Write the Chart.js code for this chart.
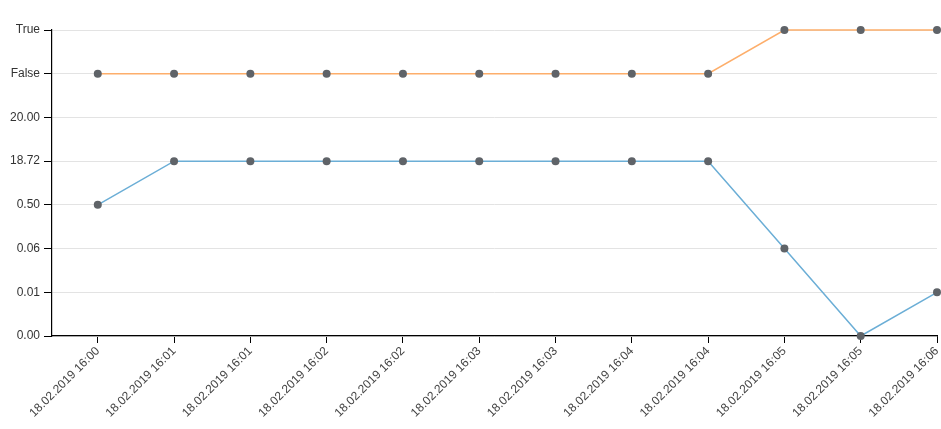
<!DOCTYPE html>
<html>
<head>
<meta charset="utf-8">
<script src="https://cdn.jsdelivr.net/npm/chart.js@4"></script>
<style>
html,body{margin:0;padding:0;background:#fff;}
#wrap{width:941px;height:429px;position:relative;}
</style>
</head>
<body>
<div id="wrap"><canvas id="c"></canvas></div>
<script>
// Tick labels on the value axis (bottom to top)
const yLabels = ["0.00", "0.01", "0.06", "0.50", "18.72", "20.00", "False", "True"];
// Time categories
const categories = [
  "18.02.2019 16:00", "18.02.2019 16:01", "18.02.2019 16:01", "18.02.2019 16:02",
  "18.02.2019 16:02", "18.02.2019 16:03", "18.02.2019 16:03", "18.02.2019 16:04",
  "18.02.2019 16:04", "18.02.2019 16:05", "18.02.2019 16:05", "18.02.2019 16:06"
];
// Series values (as read on the value axis)
const seriesBlue = ["0.50", "18.72", "18.72", "18.72", "18.72", "18.72", "18.72", "18.72", "18.72", "0.06", "0.00", "0.01"];
const seriesOrange = ["False", "False", "False", "False", "False", "False", "False", "False", "False", "True", "True", "True"];

const toPoints = arr => arr.map((v, i) => ({x: i, y: yLabels.indexOf(v)}));

const font = {family: "'Liberation Sans', Arial, sans-serif", size: 12};

new Chart(document.getElementById('c'), {
  type: 'line',
  data: {
    datasets: [
      {
        data: toPoints(seriesOrange),
        borderColor: '#fdae6b',
        borderWidth: 1.5,
        pointBackgroundColor: '#5f6368',
        pointBorderColor: '#5f6368',
        pointRadius: 4,
        pointBorderWidth: 0,
        tension: 0,
        clip: false
      },
      {
        data: toPoints(seriesBlue),
        borderColor: '#6baed6',
        borderWidth: 1.5,
        pointBackgroundColor: '#5f6368',
        pointBorderColor: '#5f6368',
        pointRadius: 4,
        pointBorderWidth: 0,
        tension: 0,
        clip: false
      }
    ]
  },
  options: {
    responsive: true,
    maintainAspectRatio: false,
    animation: false,
    layout: {padding: {top: 30, right: 3, left: 0, bottom: 0}},
    plugins: {legend: {display: false}, tooltip: {enabled: false}},
    scales: {
      x: {
        type: 'linear',
        min: -0.6,
        max: categories.length - 1,
        afterFit: s => { s.height = 93; s.paddingLeft = 0; s.paddingRight = 0; },
        afterBuildTicks: s => { s.ticks = categories.map((c, i) => ({value: i})); },
        ticks: {
          autoSkip: false,
          maxRotation: 45,
          minRotation: 45,
          color: '#444',
          font: font,
          padding: 1,
          callback: (v) => categories[v] !== undefined ? categories[v] : ''
        },
        grid: {drawOnChartArea: false, drawTicks: true, tickLength: 7, tickColor: '#000'},
        border: {color: '#000', width: 1.2}
      },
      y: {
        type: 'linear',
        min: 0,
        max: yLabels.length - 1,
        afterFit: s => { s.width = 52; s.paddingTop = 0; s.paddingBottom = 0; },
        afterBuildTicks: s => { s.ticks = yLabels.map((l, i) => ({value: i})); },
        ticks: {
          color: '#333',
          font: font,
          padding: 4,
          callback: (v) => yLabels[v] !== undefined ? yLabels[v] : ''
        },
        grid: {color: '#e3e3e3', lineWidth: 1, drawTicks: true, tickLength: 8, tickColor: '#000'},
        border: {color: '#000', width: 1.2}
      }
    }
  }
});
</script>
</body>
</html>
